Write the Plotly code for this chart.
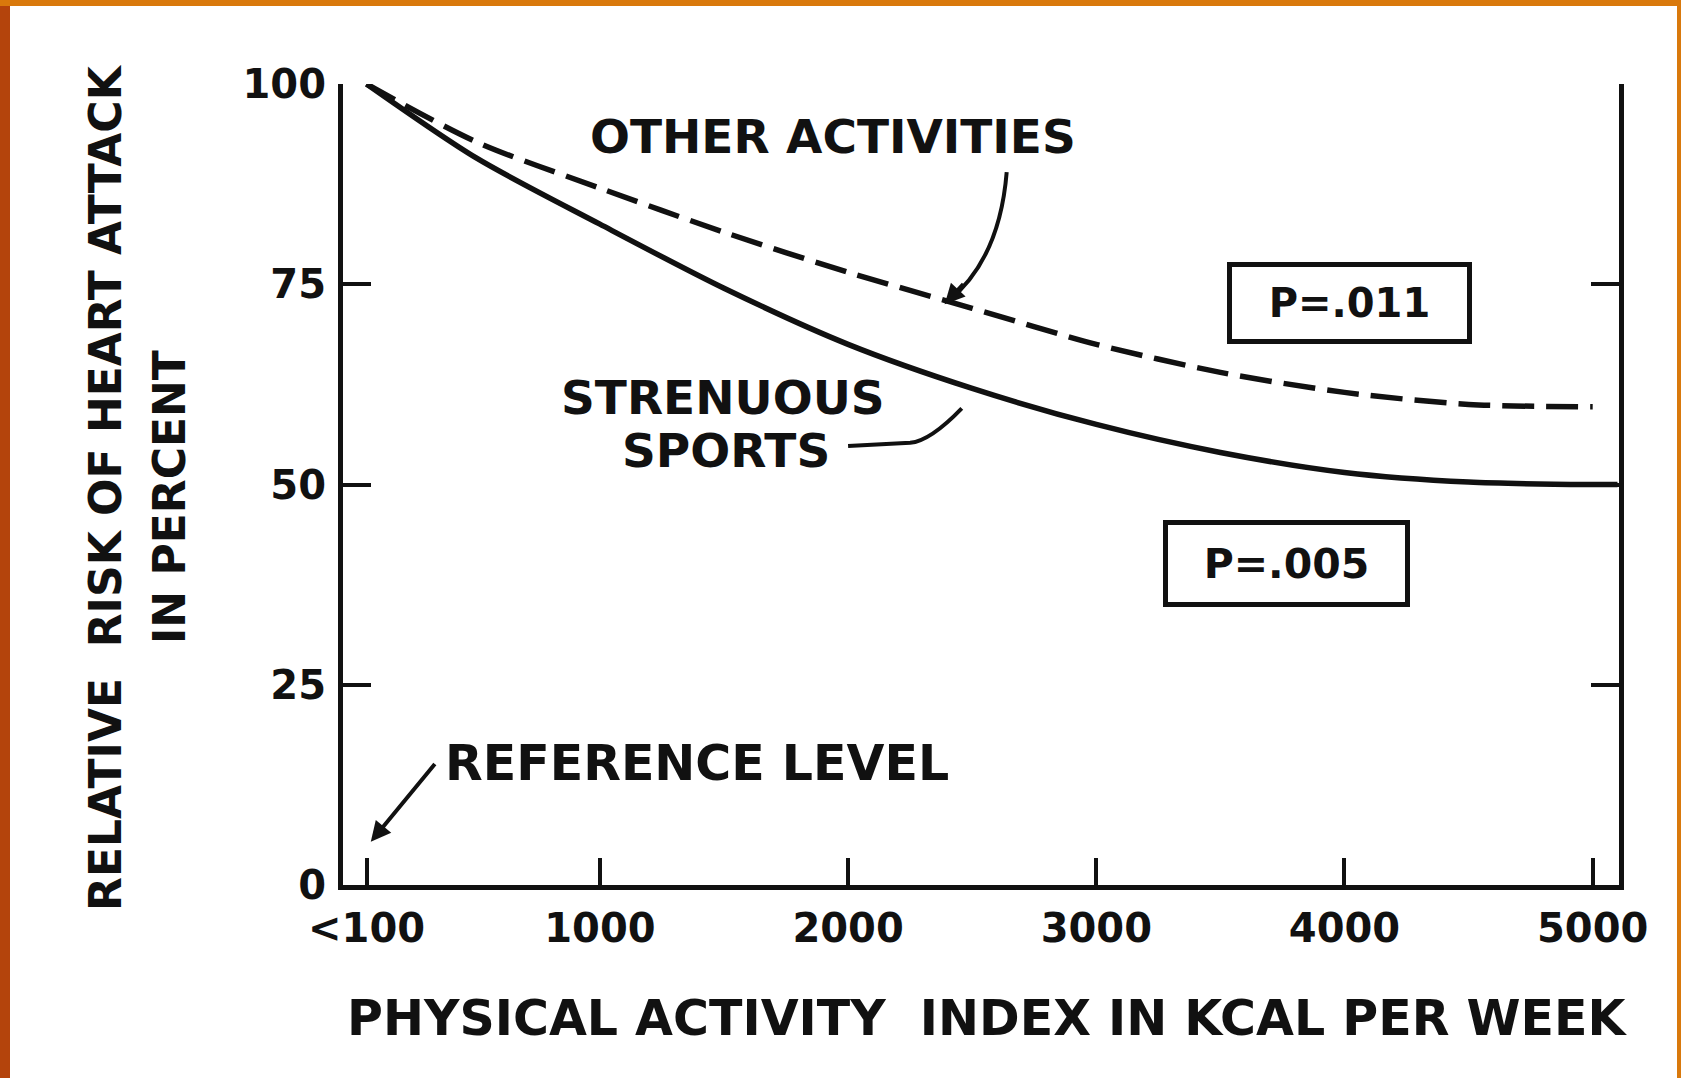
import plotly.graph_objects as go

# ---------------- data ----------------
activity_kcal = [60, 500, 1000, 1500, 2000, 2500, 3000, 3500, 4000, 4500, 5000, 5100]
strenuous_sports = [100, 90.8, 82.5, 74.5, 67.5, 62.0, 57.5, 54.0, 51.5, 50.3, 50.0, 50.0]
other_x = [60, 500, 1000, 1500, 2000, 2500, 3000, 3500, 4000, 4500, 5000]
other_activities = [100, 92.8, 87.0, 81.5, 76.5, 72.0, 67.5, 64.0, 61.5, 60.0, 59.7]

x_tick_vals = [60, 1000, 2000, 3000, 4000, 5000]
x_tick_text = ["<100", "1000", "2000", "3000", "4000", "5000"]
y_tick_vals = [0, 25, 50, 75, 100]

INK = "#111111"
FONT = "DejaVu Sans"

W, H = 1681, 1078
L, R, T, B = 343, 62, 84, 193
PW, PH = W - L - R, H - T - B


def px(xp):
    return (xp - L) / PW


def py(yp):
    return (H - B - yp) / PH


fig = go.Figure()

fig.add_trace(go.Scatter(
    x=other_x, y=other_activities, mode="lines", name="OTHER ACTIVITIES",
    line=dict(color=INK, width=5.5, dash="32px,12px", shape="spline", smoothing=0.8),
    showlegend=False, hoverinfo="skip"))
fig.add_trace(go.Scatter(
    x=activity_kcal, y=strenuous_sports, mode="lines", name="STRENUOUS SPORTS",
    line=dict(color=INK, width=5.5, shape="spline", smoothing=0.8),
    showlegend=False, hoverinfo="skip"))

shapes = [
    # white page on orange frame
    dict(type="rect", xref="paper", yref="paper", x0=px(10), x1=px(1677), y0=py(1090), y1=py(6),
         fillcolor="white", line=dict(width=0), layer="below"),
    # left darker frame strip
    dict(type="rect", xref="paper", yref="paper", x0=px(0), x1=px(10), y0=py(1090), y1=py(6),
         fillcolor="#B4440C", line=dict(width=0), layer="below"),
    # curved pointer to OTHER ACTIVITIES
    dict(type="path", xref="x", yref="y",
         path="M 2639 89 Q 2610 78 2400 72.8",
         line=dict(color=INK, width=4)),
    # pointer to STRENUOUS SPORTS
    dict(type="path", xref="x", yref="y",
         path="M 2000 54.8 L 2250 55.2 Q 2330 55.4 2458 59.5",
         line=dict(color=INK, width=4)),
]

annotations = [
    dict(text="<b>OTHER ACTIVITIES</b>", x=1940, y=93.4, xref="x", yref="y",
         xanchor="center", yanchor="middle",
         showarrow=False, font=dict(family=FONT, size=47, color=INK)),
    dict(text="<b>STRENUOUS</b>", x=1496, y=60.8, xref="x", yref="y",
         xanchor="center", yanchor="middle",
         showarrow=False, font=dict(family=FONT, size=47, color=INK)),
    dict(text="<b>SPORTS</b>", x=1508, y=54.2, xref="x", yref="y",
         xanchor="center", yanchor="middle",
         showarrow=False, font=dict(family=FONT, size=47, color=INK)),
    dict(text="<b>REFERENCE LEVEL</b>", x=1391, y=15.2, xref="x", yref="y",
         xanchor="center", yanchor="middle",
         showarrow=False, font=dict(family=FONT, size=49, color=INK)),
    # reference-level arrow
    dict(text="", x=77, y=5.4, xref="x", yref="y", ax=340, ay=15.3, axref="x", ayref="y",
         showarrow=True, arrowhead=2, arrowsize=1, arrowwidth=4, arrowcolor=INK),
    # arrowhead for curved pointer
    dict(text="", x=2389, y=72.5, xref="x", yref="y", ax=2470, ay=75.2, axref="x", ayref="y",
         showarrow=True, arrowhead=2, arrowsize=1, arrowwidth=4, arrowcolor=INK),
    # p-value boxes
    dict(text="<b>P=.011</b>", x=4022, y=72.7, xref="x", yref="y", showarrow=False,
         xanchor="center", yanchor="middle",
         font=dict(family=FONT, size=40, color=INK), bordercolor=INK, borderwidth=5,
         borderpad=0, width=235, height=72, bgcolor="white"),
    dict(text="<b>P=.005</b>", x=3768, y=40.2, xref="x", yref="y", showarrow=False,
         xanchor="center", yanchor="middle",
         font=dict(family=FONT, size=41, color=INK), bordercolor=INK, borderwidth=5,
         borderpad=0, width=237, height=77, bgcolor="white"),
    # axis titles
    dict(text="<b>PHYSICAL ACTIVITY  INDEX IN KCAL PER WEEK</b>", x=px(987), y=py(1018),
         xref="paper", yref="paper", showarrow=False, xanchor="center", yanchor="middle",
         font=dict(family=FONT, size=49, color=INK)),
    dict(text="<b>RELATIVE  RISK OF HEART ATTACK</b>", x=px(105), y=py(488),
         xref="paper", yref="paper", showarrow=False, textangle=-90,
         xanchor="center", yanchor="middle",
         font=dict(family=FONT, size=44, color=INK)),
    dict(text="<b>IN PERCENT</b>", x=px(170), y=py(497),
         xref="paper", yref="paper", showarrow=False, textangle=-90,
         xanchor="center", yanchor="middle",
         font=dict(family=FONT, size=44, color=INK)),
]

fig.update_layout(
    width=W, height=H,
    margin=dict(l=L, r=R, t=T, b=B, pad=0),
    paper_bgcolor="#D9790C", plot_bgcolor="white",
    shapes=shapes, annotations=annotations,
    showlegend=False,
    font=dict(family=FONT, color=INK),
)

fig.update_xaxes(
    range=[-35, 5106], showgrid=False, zeroline=False,
    showline=True, linecolor=INK, linewidth=5, mirror=False,
    ticks="inside", ticklen=27, tickwidth=4, tickcolor=INK,
    tickvals=x_tick_vals, ticktext=[f"<b>{t}</b>" for t in x_tick_text],
    tickfont=dict(family=FONT, size=40, color=INK), ticklabelstandoff=4,
)
fig.update_yaxes(
    range=[0, 100], showgrid=False, zeroline=False,
    showline=True, linecolor=INK, linewidth=5, mirror="ticks",
    ticks="inside", ticklen=28, tickwidth=4, tickcolor=INK,
    tickvals=y_tick_vals, ticktext=[f"<b>{v}</b>" for v in y_tick_vals],
    tickfont=dict(family=FONT, size=40, color=INK), ticklabelstandoff=4,
)

fig.write_html("out.html", config={"displayModeBar": False},
               post_script="document.body.style.margin='0';document.body.style.overflow='hidden';")
